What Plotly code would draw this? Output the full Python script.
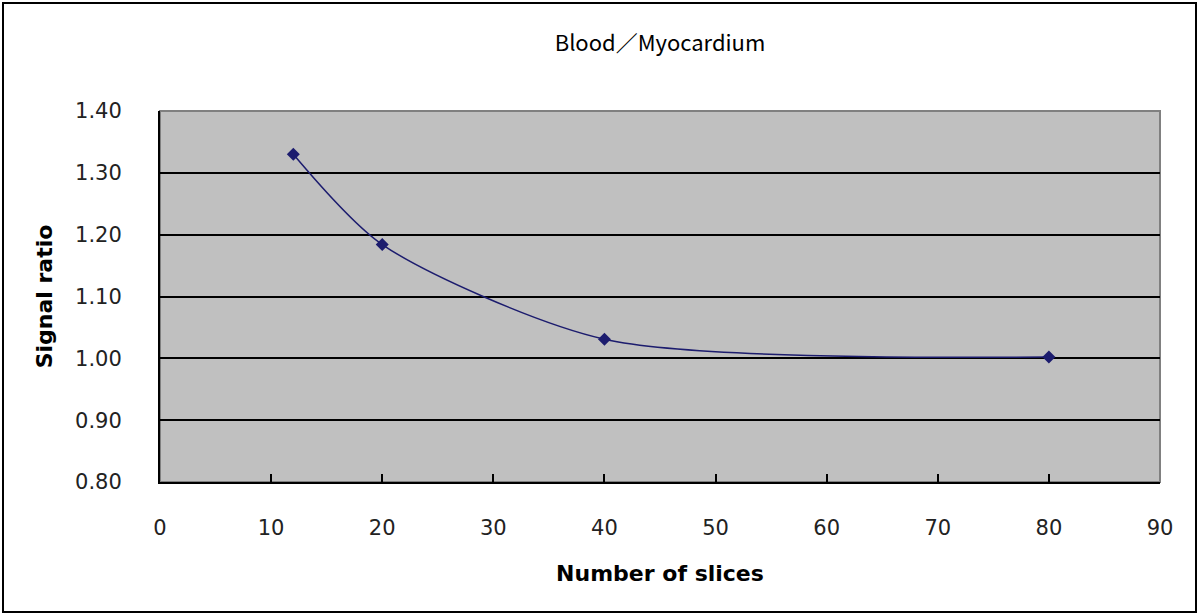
import plotly.graph_objects as go

slices = [12, 20, 40, 80]
signal_ratio = [1.33, 1.184, 1.031, 1.002]

x_ticks = [0, 10, 20, 30, 40, 50, 60, 70, 80, 90]
y_ticks = [0.80, 0.90, 1.00, 1.10, 1.20, 1.30, 1.40]

L, R, T, B = 160, 40, 111, 134
W, H = 1200, 616
pw, ph = W - L - R, H - T - B

fig = go.Figure()
fig.add_trace(go.Scatter(
    x=slices, y=signal_ratio, mode="lines+markers",
    line=dict(color="#1c1c6e", width=1.5, shape="spline", smoothing=0.75),
    marker=dict(symbol="diamond", size=10, color="#1c1c6e"),
    showlegend=False,
))

fig.update_layout(
    width=W, height=H,
    margin=dict(l=L, r=R, t=T, b=B),
    paper_bgcolor="white", plot_bgcolor="#c0c0c0",
    title=dict(text="Blood／Myocardium", x=(L + pw / 2) / W, xanchor="center",
               y=1 - 43 / H, yanchor="middle",
               font=dict(family="Noto Sans CJK JP", size=22, color="black")),
    font=dict(family="Liberation Sans", color="black"),
)
fig.update_xaxes(
    range=[0, 90], tickvals=x_ticks, ticktext=[str(v) for v in x_ticks],
    showgrid=False, zeroline=False, showline=True, linecolor="black", linewidth=2,
    ticks="inside", ticklen=8, tickwidth=2, tickcolor="black",
    tickfont=dict(family="DejaVu Sans", size=21, color="#222"),
    ticklabelstandoff=26,
    title=dict(text="<b>Number of slices</b>", standoff=26,
               font=dict(family="DejaVu Sans", size=22, color="black")),
)
fig.update_yaxes(
    range=[0.80, 1.40], tickvals=y_ticks, ticktext=[f"{v:.2f}" for v in y_ticks],
    showgrid=True, gridcolor="black", gridwidth=1.5, zeroline=False,
    showline=True, linecolor="black", linewidth=2,
    ticks="", tickfont=dict(family="DejaVu Sans", size=21, color="#222"),
    ticklabelstandoff=32,
    title=dict(text="<b>Signal ratio</b>", standoff=16,
               font=dict(family="DejaVu Sans", size=22, color="black")),
)

# plot area border (gray top/right)
fig.add_shape(type="rect", xref="paper", yref="paper", x0=0, x1=1, y0=0, y1=1,
              line=dict(color="#808080", width=2), layer="below")
# outer chart border
fig.add_shape(type="rect", xref="paper", yref="paper",
              x0=(3 - L) / pw, x1=(1196 - L) / pw,
              y0=(T + ph - 612) / ph, y1=(T + ph - 3) / ph,
              line=dict(color="black", width=2))

fig.write_html("out.html", config={"displayModeBar": False},
               post_script="document.body.style.margin='0';")
